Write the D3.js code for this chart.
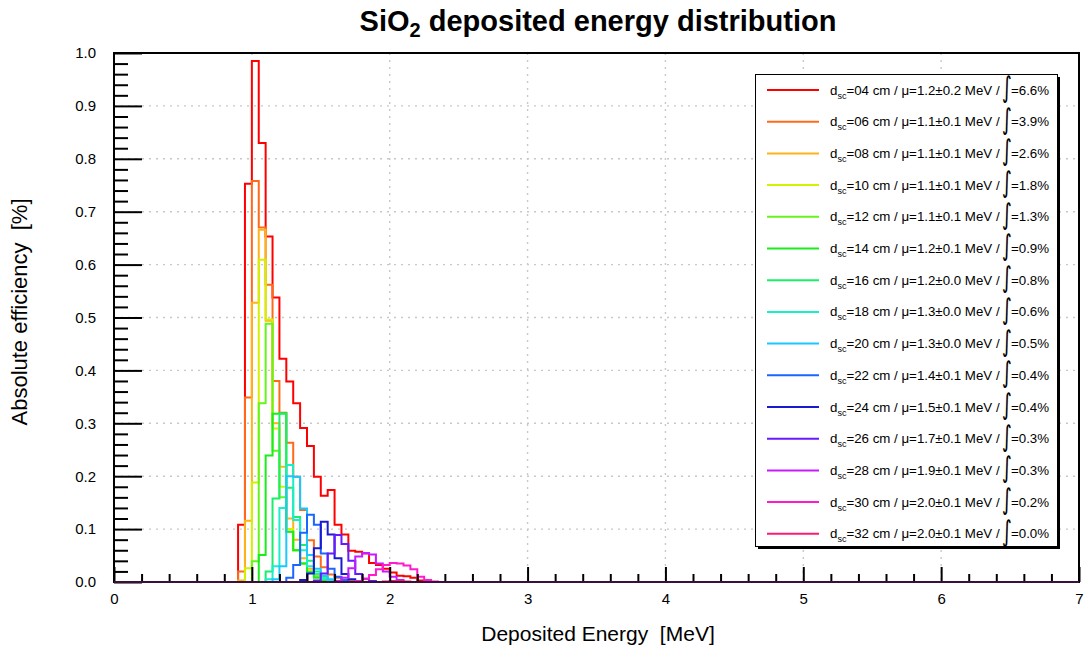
<!DOCTYPE html>
<html><head><meta charset="utf-8">
<script src="https://cdn.jsdelivr.net/npm/d3@7"></script>
<style>
body{margin:0;background:#fff}
text{font-family:"Liberation Sans",Arial,sans-serif;fill:#000;white-space:pre}
</style>
</head><body>
<svg id="c" width="1084" height="648"></svg>
<script>
// ---------- data ----------
const binWidth = 0.05;
const distances = ["04","06","08","10","12","14","16","18","20","22","24","26","28","30","32"];
const means     = ["1.2","1.1","1.1","1.1","1.1","1.2","1.2","1.3","1.3","1.4","1.5","1.7","1.9","2.0","2.0"];
const sigmas    = ["0.2","0.1","0.1","0.1","0.1","0.1","0.0","0.0","0.0","0.1","0.1","0.1","0.1","0.1","0.1"];
const integrals = ["6.6","3.9","2.6","1.8","1.3","0.9","0.8","0.6","0.5","0.4","0.4","0.3","0.3","0.2","0.0"];
const colors    = ["#ff0000","#ff6a1a","#ffb21a","#d2f000","#66f51a","#1aee1a","#1aee6a","#1aeec8","#1ac8ff","#1a66ff","#1a1ad2","#661aff","#c81aff","#ff1acc","#ff1a70"];
const starts    = [0.90,0.90,0.90,0.95,1.00,1.05,1.10,1.10,1.15,1.25,1.35,1.45,1.60,1.75,1.95];

const h04 = [0.108,0.753,0.985,0.830,0.653,0.538,0.422,0.379,0.338,0.291,0.257,0.199,0.163,0.174,0.108,0.090,0.059,0.057,0.054,0.036,0.032,0.025,0.018,0.012,0.011,0.008,0.003,0.002];
const h06 = [0.020,0.349,0.758,0.670,0.562,0.380,0.320,0.263,0.199,0.136,0.079,0.048,0.028,0.014,0.008,0.004,0.002];
const h08 = [0.003,0.116,0.528,0.666,0.494,0.300,0.218,0.120,0.080,0.045,0.025,0.012,0.006,0.003];
const h10 = [0.026,0.188,0.609,0.496,0.290,0.180,0.100,0.060,0.035,0.020,0.010,0.004];
const h12 = [0.039,0.338,0.488,0.248,0.160,0.095,0.060,0.035,0.020,0.010,0.004];
const h14 = [0.051,0.239,0.318,0.319,0.095,0.060,0.035,0.018,0.008,0.003];
const h16 = [0.020,0.158,0.318,0.178,0.123,0.070,0.040,0.020,0.010,0.004];
const h18 = [0.005,0.030,0.140,0.221,0.117,0.060,0.030,0.015,0.006,0.002];
const h20 = [0.005,0.030,0.200,0.199,0.139,0.051,0.025,0.012,0.005,0.002];
const h22 = [0.008,0.032,0.093,0.127,0.108,0.054,0.025,0.010,0.004];
const h24 = [0.004,0.016,0.064,0.114,0.090,0.045,0.015,0.005];
const h26 = [0.003,0.016,0.054,0.089,0.072,0.040,0.015,0.006,0.002];
const h28 = [0.002,0.008,0.026,0.048,0.055,0.052,0.035,0.020,0.010,0.004];
const h30 = [0.002,0.006,0.013,0.024,0.032,0.036,0.035,0.031,0.024,0.010,0.004,0.001];
const h32 = [0.001,0.002,0.002,0.001];
const series = [h04,h06,h08,h10,h12,h14,h16,h18,h20,h22,h24,h26,h28,h30,h32];

const xTicks = [0,1,2,3,4,5,6,7];
const yTicks = [0,0.1,0.2,0.3,0.4,0.5,0.6,0.7,0.8,0.9,1.0];

// ---------- layout ----------
const svg = d3.select("#c");
const m = {l:114, r:1079, t:53, b:582};
const x = d3.scaleLinear().domain([0,7]).range([m.l, m.r]);
const y = d3.scaleLinear().domain([0,1]).range([m.b, m.t]);

// grid
const grid = svg.append("g").attr("stroke","#c8c8c8").attr("stroke-width",1.4).attr("stroke-dasharray","2,5");
grid.selectAll("line.gx").data(xTicks.slice(1,-1)).join("line")
  .attr("x1",d=>x(d)).attr("x2",d=>x(d)).attr("y1",m.t).attr("y2",m.b);
grid.selectAll("line.gy").data(yTicks.slice(1,-1)).join("line")
  .attr("x1",m.l).attr("x2",m.r).attr("y1",d=>y(d)).attr("y2",d=>y(d));

// histograms
svg.append("clipPath").attr("id","pc").append("rect")
  .attr("x",m.l).attr("y",m.t).attr("width",m.r-m.l).attr("height",m.b-m.t);
const line = d3.line().x(d=>x(d[0])).y(d=>y(d[1])).curve(d3.curveStepAfter);
const hg = svg.append("g").attr("clip-path","url(#pc)");
series.forEach((vals,i)=>{
  const x0 = starts[i];
  const pts = [[x0,0]];
  vals.forEach((v,j)=>pts.push([x0+j*binWidth, v]));
  pts.push([x0+vals.length*binWidth, 0]);
  hg.append("path").attr("d",line(pts)).attr("fill","none")
    .attr("stroke",colors[i]).attr("stroke-width",2);
});

// axes
const yMinor = d3.range(0,1.0001,0.02).filter(v=>Math.abs(v*10-Math.round(v*10))>1e-6);
const xMinor = d3.range(0,7.0001,0.2).filter(v=>Math.abs(v-Math.round(v))>1e-6);
function styleAxis(g){ g.select(".domain").remove(); g.selectAll("line").attr("stroke","#000").attr("stroke-width",2);
  g.selectAll("text").style("font-family","'Liberation Sans',Arial,sans-serif").style("font-size","15px").attr("fill","#000"); }
svg.append("g").attr("transform",`translate(${m.l},0)`)
  .call(d3.axisLeft(y).tickValues(yTicks).tickSizeInner(-28).tickSizeOuter(0).tickPadding(18).tickFormat(d3.format(".1f")))
  .call(styleAxis);
svg.append("g").attr("transform",`translate(${m.l},0)`)
  .call(d3.axisLeft(y).tickValues(yMinor).tickSizeInner(-14).tickSizeOuter(0).tickFormat(""))
  .call(styleAxis);
svg.append("g").attr("transform",`translate(0,${m.b})`)
  .call(d3.axisBottom(x).tickValues(xTicks).tickSizeInner(-15).tickSizeOuter(0).tickPadding(11).tickFormat(d3.format("d")))
  .call(styleAxis);
svg.append("g").attr("transform",`translate(0,${m.b})`)
  .call(d3.axisBottom(x).tickValues(xMinor).tickSizeInner(-8).tickSizeOuter(0).tickFormat(""))
  .call(styleAxis);

// frame
svg.append("rect").attr("x",m.l).attr("y",m.t).attr("width",m.r-m.l).attr("height",m.b-m.t)
  .attr("fill","none").attr("stroke","#000").attr("stroke-width",2);
svg.append("line").attr("x1",m.l).attr("x2",m.r).attr("y1",m.b).attr("y2",m.b)
  .attr("stroke","#3a0f3a").attr("stroke-width",2);

// titles
const t = svg.append("text").attr("x",598).attr("y",31).attr("text-anchor","middle")
  .style("font-size","29px").style("font-weight","bold");
t.append("tspan").text("SiO");
t.append("tspan").text("2").style("font-size","20px").attr("dy",6);
t.append("tspan").text(" deposited energy distribution").attr("dy",-6);

svg.append("text").attr("x",598).attr("y",641).attr("text-anchor","middle")
  .style("font-size","21px").text("Deposited Energy  [MeV]");
svg.append("text").attr("transform","translate(27,312) rotate(-90)").attr("text-anchor","middle")
  .style("font-size","22px").text("Absolute efficiency  [%]");

// legend
const lg = svg.append("g");
lg.append("rect").attr("x",758).attr("y",77).attr("width",302).attr("height",472).attr("fill","#000");
lg.append("rect").attr("x",755.5).attr("y",74.5).attr("width",302).attr("height",472)
  .attr("fill","#fff").attr("stroke","#000").attr("stroke-width",1);
const rowY = i => 90 + i*31.7;
distances.forEach((d,i)=>{
  const yy = rowY(i);
  lg.append("line").attr("x1",767).attr("x2",819).attr("y1",yy).attr("y2",yy)
    .attr("stroke",colors[i]).attr("stroke-width",2);
  const tx = lg.append("text").attr("x",830).attr("y",yy+4.5).style("font-size","13.3px");
  tx.append("tspan").text("d");
  tx.append("tspan").text("sc").style("font-size","9px").attr("dy",4);
  tx.append("tspan").text(`=${d} cm / \u03bc=${means[i]}\u00b1${sigmas[i]} MeV /`).attr("dy",-4);
  lg.append("text").attr("x",1002).attr("y",yy+7).attr("transform",`translate(0,${yy+7}) scale(1,1.5) translate(0,${-(yy+7)})`)
    .style("font-family","'DejaVu Sans',sans-serif").style("font-size","19px").text("\u222b");
  lg.append("text").attr("x",1011).attr("y",yy+4.5).style("font-size","13.3px").text(`=${integrals[i]}%`);
});
</script>
</body></html>
